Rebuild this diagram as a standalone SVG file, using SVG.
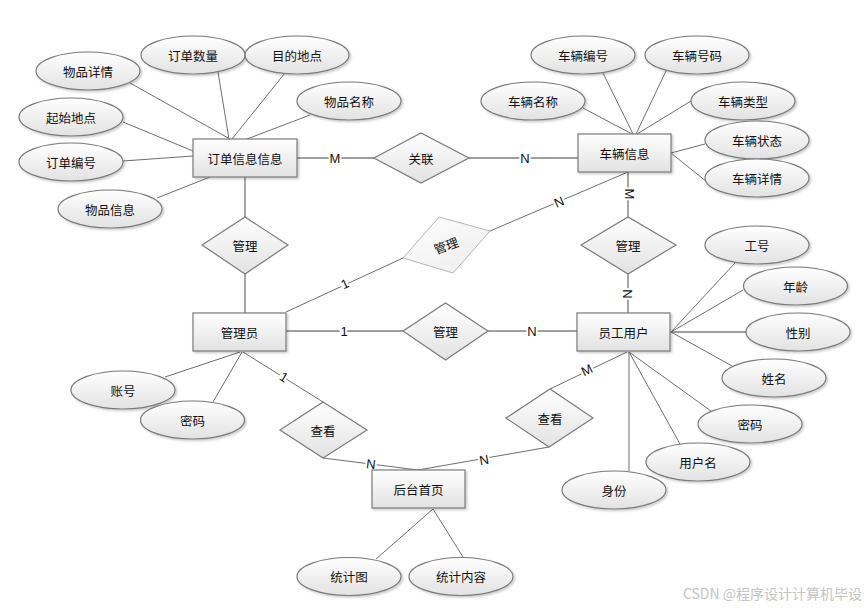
<svg xmlns="http://www.w3.org/2000/svg" width="867" height="608" viewBox="0 0 867 608">
<defs>
<linearGradient id="g" x1="0" y1="0" x2="0" y2="1">
<stop offset="0" stop-color="#ffffff"/>
<stop offset="1" stop-color="#e2e2e2"/>
</linearGradient>
<linearGradient id="g2" x1="0" y1="0" x2="1" y2="1">
<stop offset="0" stop-color="#ffffff"/>
<stop offset="1" stop-color="#ececec"/>
</linearGradient>
<filter id="sh" x="-20%" y="-20%" width="150%" height="160%">
<feDropShadow dx="1.5" dy="1.5" stdDeviation="1" flood-color="#000" flood-opacity="0.22"/>
</filter>
</defs>
<style>
.e{fill:url(#g);stroke:#7a7a7a;stroke-width:1.2;filter:url(#sh)}
.d{fill:url(#g);stroke:#7a7a7a;stroke-width:1.2}
.t{font-family:"Noto Sans CJK SC","Microsoft YaHei",sans-serif;font-size:12.5px;fill:#111;text-anchor:middle;dominant-baseline:central}
.a{stroke:#6e6e6e;stroke-width:1;fill:none}
.r{stroke:#7f7f7f;stroke-width:1.4;fill:none}
.l{font-family:"Liberation Sans",Arial,sans-serif;font-size:13px;fill:#111;text-anchor:middle;dominant-baseline:central;stroke:#fff;stroke-width:4;paint-order:stroke}
</style>
<rect width="867" height="608" fill="#fff"/>
<g id="connectors">
<!-- attribute lines: 订单信息信息 -->
<line class="a" x1="130" y1="83" x2="230" y2="139"/>
<line class="a" x1="218" y1="72" x2="229" y2="139"/>
<line class="a" x1="285" y1="73" x2="232" y2="139"/>
<line class="a" x1="310" y1="115" x2="247" y2="139"/>
<line class="a" x1="123" y1="122" x2="193" y2="151"/>
<line class="a" x1="123" y1="161" x2="193" y2="156"/>
<line class="a" x1="157" y1="198" x2="210" y2="177"/>
<!-- 车辆信息 -->
<line class="a" x1="603" y1="73" x2="633" y2="134"/>
<line class="a" x1="666" y1="71" x2="636" y2="134"/>
<line class="a" x1="583" y1="108" x2="632" y2="134"/>
<line class="a" x1="691" y1="101" x2="637" y2="134"/>
<line class="a" x1="705" y1="144" x2="671" y2="153"/>
<line class="a" x1="707" y1="182" x2="671" y2="153"/>
<!-- 员工用户 -->
<line class="a" x1="735" y1="263" x2="671" y2="332"/>
<line class="a" x1="743" y1="290" x2="671" y2="332"/>
<line class="r" x1="746" y1="332" x2="670" y2="332"/>
<line class="a" x1="732" y1="366" x2="671" y2="332"/>
<line class="a" x1="711" y1="411" x2="629" y2="352"/>
<line class="a" x1="680" y1="444" x2="629" y2="352"/>
<line class="a" x1="629" y1="471" x2="629" y2="352"/>
<!-- 管理员 -->
<line class="a" x1="165" y1="377" x2="240" y2="352"/>
<line class="a" x1="213" y1="402" x2="242" y2="352"/>
<!-- 后台首页 -->
<line class="a" x1="376" y1="559" x2="433" y2="509"/>
<line class="a" x1="463" y1="557" x2="433" y2="509"/>
<!-- relationship lines -->
<line class="r" x1="297" y1="158" x2="374" y2="158"/>
<line class="r" x1="469" y1="158" x2="578" y2="158"/>
<line class="r" x1="245" y1="177" x2="245" y2="217"/>
<line class="r" x1="245" y1="274" x2="245" y2="313"/>
<line class="a" x1="286" y1="312" x2="403" y2="258"/>
<line class="a" x1="490" y1="231" x2="628" y2="172"/>
<line class="r" x1="628" y1="172" x2="628" y2="217"/>
<line class="r" x1="628" y1="274" x2="628" y2="313"/>
<line class="r" x1="286" y1="331" x2="403" y2="331"/>
<line class="r" x1="488" y1="331" x2="577" y2="331"/>
<line class="a" x1="243" y1="352" x2="323" y2="402"/>
<line class="a" x1="323" y1="458" x2="418" y2="470"/>
<line class="a" x1="418" y1="470" x2="549" y2="447"/>
<line class="a" x1="550" y1="389" x2="627" y2="352"/>
<!-- cardinality labels -->
<text class="l" x="335" y="158">M</text>
<text class="l" x="525" y="158">N</text>
<text class="l" x="629" y="194" transform="rotate(90 629 194)">M</text>
<text class="l" x="627" y="294" transform="rotate(90 627 294)">N</text>
<text class="l" x="345" y="284" transform="rotate(-25 345 284)">1</text>
<text class="l" x="559" y="202" transform="rotate(-23 559 202)">N</text>
<text class="l" x="344" y="331">1</text>
<text class="l" x="532" y="331">N</text>
<text class="l" x="284" y="377" transform="rotate(32 284 377)">1</text>
<text class="l" x="371" y="464" transform="rotate(7 371 464)">N</text>
<text class="l" x="484" y="460" transform="rotate(-10 484 460)">N</text>
<text class="l" x="587" y="370" transform="rotate(-26 587 370)">M</text>
</g>
<g id="e_order"><rect class="e" x="193" y="139" width="104" height="38"/><text class="t" x="245" y="158">订单信息信息</text></g>
<g id="e_vehicle"><rect class="e" x="578" y="134" width="93" height="38"/><text class="t" x="624.5" y="153">车辆信息</text></g>
<g id="e_admin"><rect class="e" x="193" y="313" width="93" height="38"/><text class="t" x="239.5" y="332">管理员</text></g>
<g id="e_staff"><rect class="e" x="577" y="313" width="93" height="38"/><text class="t" x="623.5" y="332">员工用户</text></g>
<g id="e_home"><rect class="e" x="372" y="470" width="93" height="38"/><text class="t" x="418.5" y="489">后台首页</text></g>
<g id="r_link"><polygon class="d" points="374,158 421,133 469,158 421,183"/><text class="t" x="421" y="158">关联</text></g>
<g id="r_manage1"><polygon class="d" points="202,245 245,217 288,245 245,274"/><text class="t" x="245" y="245">管理</text></g>
<g id="r_manage2"><polygon points="439,217 490,231 453,273 403,258" fill="url(#g2)" stroke="#b5b5b5" stroke-width="1"/><text class="t" x="446" y="245" transform="rotate(-20 446 245)">管理</text></g>
<g id="r_manage3"><polygon class="d" points="581,245 628,217 676,245 628,274"/><text class="t" x="628" y="245">管理</text></g>
<g id="r_manage4"><polygon class="d" points="403,331 445.5,303 488,331 445.5,360"/><text class="t" x="445.5" y="331">管理</text></g>
<g id="r_view1"><polygon class="d" points="280,430 323,402 367,430 323,458"/><text class="t" x="323" y="430">查看</text></g>
<g id="r_view2"><polygon class="d" points="506,418 550,389 593,418 549,447"/><text class="t" x="550" y="418">查看</text></g>
<g id="a_wpxq"><ellipse class="e" cx="88" cy="71" rx="52" ry="19"/><text class="t" x="88" y="71">物品详情</text></g>
<g id="a_ddsl"><ellipse class="e" cx="193" cy="55" rx="52" ry="19"/><text class="t" x="193" y="55">订单数量</text></g>
<g id="a_mddd"><ellipse class="e" cx="297" cy="55" rx="52" ry="19"/><text class="t" x="297" y="55">目的地点</text></g>
<g id="a_wpmc"><ellipse class="e" cx="349" cy="101" rx="52" ry="19"/><text class="t" x="349" y="101">物品名称</text></g>
<g id="a_qsdd"><ellipse class="e" cx="71" cy="117" rx="52" ry="19"/><text class="t" x="71" y="117">起始地点</text></g>
<g id="a_ddbh"><ellipse class="e" cx="71" cy="162" rx="52" ry="19"/><text class="t" x="71" y="162">订单编号</text></g>
<g id="a_wpxx"><ellipse class="e" cx="110" cy="209" rx="52" ry="19"/><text class="t" x="110" y="209">物品信息</text></g>
<g id="a_clbh"><ellipse class="e" cx="583" cy="55" rx="52" ry="19"/><text class="t" x="583" y="55">车辆编号</text></g>
<g id="a_clhm"><ellipse class="e" cx="697" cy="55" rx="52" ry="19"/><text class="t" x="697" y="55">车辆号码</text></g>
<g id="a_clmc"><ellipse class="e" cx="533" cy="101" rx="52" ry="19"/><text class="t" x="533" y="101">车辆名称</text></g>
<g id="a_cllx"><ellipse class="e" cx="743" cy="101" rx="52" ry="19"/><text class="t" x="743" y="101">车辆类型</text></g>
<g id="a_clzt"><ellipse class="e" cx="757" cy="140" rx="52" ry="19"/><text class="t" x="757" y="140">车辆状态</text></g>
<g id="a_clxq"><ellipse class="e" cx="757" cy="178" rx="52" ry="19"/><text class="t" x="757" y="178">车辆详情</text></g>
<g id="a_gh"><ellipse class="e" cx="757" cy="245" rx="52" ry="19"/><text class="t" x="757" y="245">工号</text></g>
<g id="a_nl"><ellipse class="e" cx="795.5" cy="286" rx="52" ry="19"/><text class="t" x="795.5" y="286">年龄</text></g>
<g id="a_xb"><ellipse class="e" cx="798" cy="332" rx="52" ry="19"/><text class="t" x="798" y="332">性别</text></g>
<g id="a_xm"><ellipse class="e" cx="774" cy="378" rx="52" ry="19"/><text class="t" x="774" y="378">姓名</text></g>
<g id="a_mm2"><ellipse class="e" cx="750" cy="424" rx="52" ry="19"/><text class="t" x="750" y="424">密码</text></g>
<g id="a_yhm"><ellipse class="e" cx="698" cy="462" rx="52" ry="19"/><text class="t" x="698" y="462">用户名</text></g>
<g id="a_sf"><ellipse class="e" cx="614" cy="490" rx="52" ry="19"/><text class="t" x="614" y="490">身份</text></g>
<g id="a_zh"><ellipse class="e" cx="123" cy="390" rx="52" ry="19"/><text class="t" x="123" y="390">账号</text></g>
<g id="a_mm1"><ellipse class="e" cx="192.5" cy="420" rx="52" ry="19"/><text class="t" x="192.5" y="420">密码</text></g>
<g id="a_tjt"><ellipse class="e" cx="349" cy="576.5" rx="52" ry="19"/><text class="t" x="349" y="576.5">统计图</text></g>
<g id="a_tjnr"><ellipse class="e" cx="461" cy="576.5" rx="52" ry="19"/><text class="t" x="461" y="576.5">统计内容</text></g>
<text x="862" y="593" font-family="'Noto Sans CJK SC','Liberation Sans',sans-serif" font-size="14" fill="#c4c4c4" text-anchor="end" dominant-baseline="central">CSDN @程序设计计算机毕设</text>
</svg>
